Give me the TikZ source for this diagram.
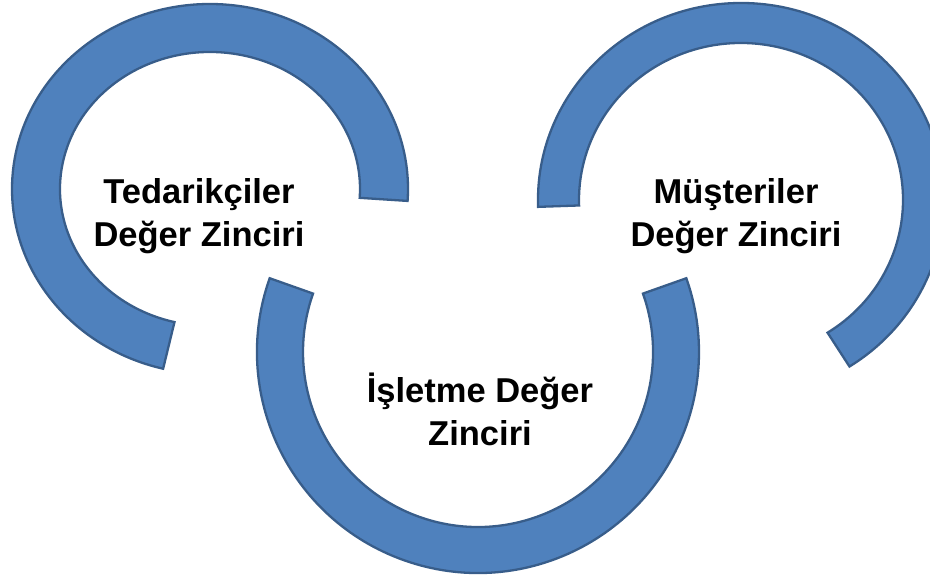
\documentclass[tikz,border=0pt]{standalone}
\usepackage{fontspec}
\setmainfont{Liberation Sans}
\usetikzlibrary{calc}
\definecolor{ringfill}{HTML}{4F81BD}
\definecolor{ringline}{HTML}{385D8A}
\tikzset{
  ring/.style={fill=ringfill, draw=ringline, line width=2.3pt, line join=miter},
  ringtext/.style={font=\bfseries\fontsize{34.5}{43}\selectfont, align=center, inner sep=0pt, text=black},
}
% elliptical band: #1 centre, #2 start angle, #3 end angle,
% #4/#5 outer radii, #6/#7 inner radii
\newcommand\ringband[7]{%
  \draw[ring] ($(#1)+(#2:#4pt and #5pt)$)
    arc[start angle=#2, end angle=#3, x radius=#4pt, y radius=#5pt]
    -- ($(#1)+(#3:#6pt and #7pt)$)
    arc[start angle=#3, end angle=#2, x radius=#6pt, y radius=#7pt]
    -- cycle;}
\begin{document}
\begin{tikzpicture}[x=1pt, y=1pt]
  \useasboundingbox (0,0) rectangle (930,583);
  \fill[white] (0,0) rectangle (930,583);
  \clip (0,0) rectangle (930,583);

  \coordinate (supC) at (210,394);
  \coordinate (firmC) at (478,231);
  \coordinate (custC) at (741,383);

  \ringband{supC}{-3.7}{256.3}{198}{185}{150}{137}
  \ringband{firmC}{160.5}{379.5}{221}{221}{175}{175}
  \ringband{custC}{182}{-57.7}{203}{197}{162}{157}

  \node[ringtext] (sup) at (199,369.5)
    {\rule{0pt}{34pt}Tedarikçiler\\Değer Zinciri\rule[-10pt]{0pt}{10pt}};
  \node[ringtext] (cust) at (736,369.5)
    {\rule{0pt}{34pt}Müşteriler\\Değer Zinciri\rule[-10pt]{0pt}{10pt}};
  \node[ringtext] (firm) at (480,170.5)
    {\rule{0pt}{34pt}İşletme Değer\\Zinciri\rule[-10pt]{0pt}{10pt}};
\end{tikzpicture}
\end{document}
